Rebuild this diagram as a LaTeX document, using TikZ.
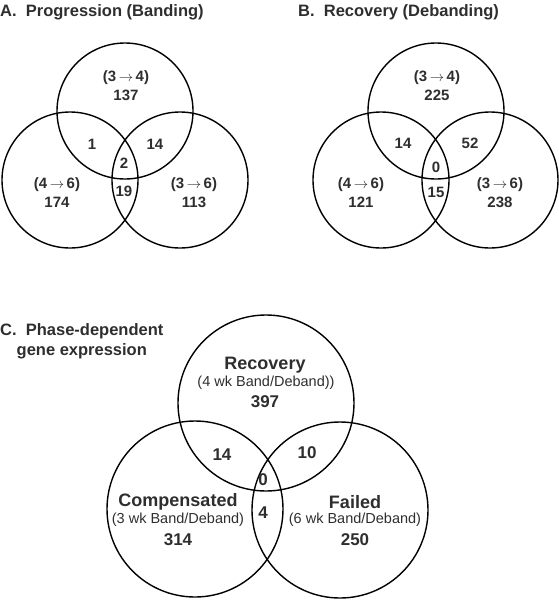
\documentclass[tikz,border=0pt]{standalone}
\usepackage{fontspec}
\setmainfont{Liberation Sans}
\usetikzlibrary{positioning}
\definecolor{ink}{HTML}{2E2E2E}
\newcommand{\goes}{\,$\rightarrow$\,}

\begin{document}
\begin{tikzpicture}[x=1pt,y=-1pt,
    set/.style={draw=black,line width=1.4pt,circle,minimum size=136pt,inner sep=0pt},
    bigset/.style={set,minimum size=176pt},
    paneltitle/.style={text=ink,font=\bfseries\fontsize{16.5}{20}\selectfont,inner sep=0pt},
    cnt/.style={text=ink,font=\bfseries\fontsize{15}{19}\selectfont,align=center,inner sep=0pt},
    setname/.style={text=ink,font=\bfseries\fontsize{18}{20}\selectfont,inner sep=0pt},
    setnote/.style={text=ink,font=\fontsize{14.5}{17}\selectfont,inner sep=0pt},
    bigcnt/.style={text=ink,font=\bfseries\fontsize{17}{20}\selectfont,inner sep=0pt}]
   \useasboundingbox (0,0) rectangle (559,600);

   % A. progression
   \node[paneltitle,anchor=west] (A_t) at (0,12) {A.~~Progression (Banding)};
   \node[set] (A_1) at (125,111) {};
   \node[set] (A_2) at (70,180) {};
   \node[set] (A_3) at (180,180) {};
   \node[cnt] (A_1l) at (126,86) {(3\goes4)\\137};
   \node[cnt] (A_2l) at (57,193) {(4\goes6)\\174};
   \node[cnt] (A_3l) at (194,193) {(3\goes6)\\113};
   \node[cnt] (A_12) at (92,144) {1};
   \node[cnt] (A_13) at (155,144) {14};
   \node[cnt] (A_123) at (124,163) {2};
   \node[cnt] (A_23) at (124,191) {19};

   % B. recovery
   \node[paneltitle,anchor=west] (B_t) at (298,12) {B.~~Recovery (Debanding)};
   \node[set] (B_1) at (436,111) {};
   \node[set] (B_2) at (381,180) {};
   \node[set] (B_3) at (490,180) {};
   \node[cnt] (B_1l) at (437,86) {(3\goes4)\\225};
   \node[cnt] (B_2l) at (361,193) {(4\goes6)\\121};
   \node[cnt] (B_3l) at (500,193) {(3\goes6)\\238};
   \node[cnt] (B_12) at (403,143) {14};
   \node[cnt] (B_13) at (470,143) {52};
   \node[cnt] (B_123) at (436,167) {0};
   \node[cnt] (B_23) at (436,192) {15};

   % C. phase-dependent
   \node[paneltitle,align=center,anchor=north west] (C_t) at (0,323) {C.~~Phase-dependent\\gene expression};
   \node[bigset] (C_1) at (266,403) {};
   \node[bigset] (C_2) at (195,509) {};
   \node[bigset] (C_3) at (340,510) {};
   \node[setname] (C_1n) at (265,365) {Recovery};
   \node[setnote] (C_1d) at (266,383) {(4 wk Band/Deband))};
   \node[bigcnt] (C_1c) at (265,402) {397};
   \node[setname] (C_2n) at (178,502) {Compensated};
   \node[setnote] (C_2d) at (178,520) {(3 wk Band/Deband)};
   \node[bigcnt] (C_2c) at (178,540) {314};
   \node[setname] (C_3n) at (355,502) {Failed};
   \node[setnote] (C_3d) at (355,520) {(6 wk Band/Deband)};
   \node[bigcnt] (C_3c) at (355,540) {250};
   \node[bigcnt] (C_12) at (222,455) {14};
   \node[bigcnt] (C_13) at (307,453) {10};
   \node[bigcnt] (C_123) at (263,480) {0};
   \node[bigcnt] (C_23) at (263,513) {4};
\end{tikzpicture}
\end{document}
